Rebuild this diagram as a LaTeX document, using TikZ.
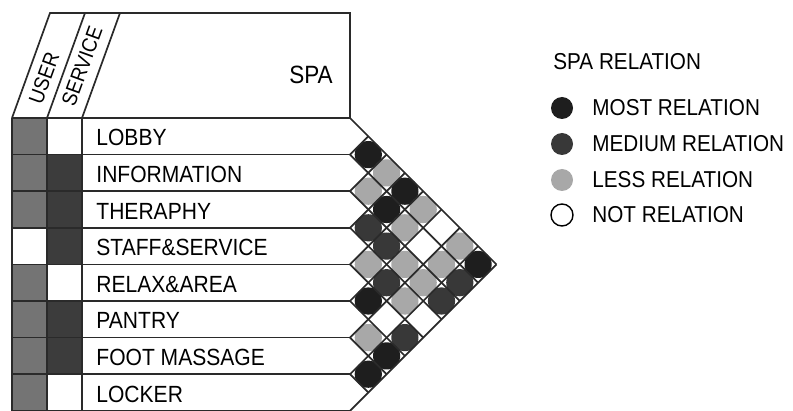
\documentclass[tikz,border=0pt]{standalone}
\usepackage{fontspec}
\setmainfont{Liberation Sans}[FakeStretch=0.9]

\definecolor{linegray}{HTML}{2A2A2A}
\definecolor{relmost}{HTML}{1E1E1E}
\definecolor{relmedium}{HTML}{383838}
\definecolor{relless}{HTML}{A8A8A8}
\definecolor{usergray}{HTML}{747474}
\definecolor{servicegray}{HTML}{3C3C3C}

\tikzset{
  gridline/.style={line width=0.85pt, draw=linegray},
  rowlabel/.style={anchor=west, inner sep=0pt, font=\fontsize{11.7}{12}\selectfont},
  headlabel/.style={inner sep=0pt, rotate=70, font=\fontsize{10.5}{12}\selectfont},
  legendtext/.style={anchor=west, inner sep=0pt, font=\fontsize{11.5}{12}\selectfont},
  legenddot/.style={circle, inner sep=0pt, minimum size=11pt},
}

\newcommand{\rowh}{36.6}

\begin{document}
\begin{tikzpicture}[x=0.5pt, y=-0.5pt]
    \useasboundingbox (0,0) rectangle (793,411);

    % ---- user / service columns (1 = used) ----
    \foreach \u/\s [count=\k from 0] in {1/0,1/1,1/1,0/1,1/0,1/1,1/1,1/0}{
        \ifnum\u=1 \fill[usergray] (12,118+\k*\rowh) rectangle (47,118+\k*\rowh+\rowh);\fi
        \ifnum\s=1 \fill[servicegray] (47,118+\k*\rowh) rectangle (82,118+\k*\rowh+\rowh);\fi
    }

    % ---- relation circles (pair i/j) ----
    \foreach \i/\j/\c in {0/1/relmost, 0/2/relless, 0/3/relmost, 0/4/relless, 0/6/relless, 0/7/relmost,
                          1/2/relless, 1/3/relmost, 1/4/relless, 1/6/relless, 1/7/relmedium,
                          2/3/relmedium, 2/4/relmedium, 2/5/relless, 2/6/relless, 2/7/relmedium,
                          3/4/relless, 3/5/relmedium, 3/6/relless,
                          4/5/relmost, 4/7/relmedium,
                          5/6/relless, 5/7/relmost,
                          6/7/relmost}
        \fill[\c] ({350+(\j-\i)*\rowh/2}, {118+(\i+\j+1)*\rowh/2}) circle (6.8pt);

    % ---- header ----
    \draw[gridline] (12,118) -- (50,13) -- (350,13) -- (350,118);
    \draw[gridline] (47,118) -- (85,13);
    \draw[gridline] (82,118) -- (120,13);
    \node[headlabel] (user) at (44,78) {USER};
    \node[headlabel] (service) at (82,66) {SERVICE};
    \node[inner sep=0pt, font=\fontsize{12.5}{14}\selectfont] (spa) at (311,75) {SPA};

    % ---- rows ----
    \foreach \k in {0,...,8}
        \draw[gridline] (12,118+\k*\rowh) -- (350,118+\k*\rowh);
    \foreach \x in {12,47,82}
        \draw[gridline] (\x,118) -- (\x,118+8*\rowh);
    \foreach \name/\txt [count=\k from 0] in {lobby/LOBBY, info/INFORMATION, therapy/THERAPHY,
            staff/STAFF\&SERVICE, relax/RELAX\&AREA, pantry/PANTRY, foot/FOOT MASSAGE, locker/LOCKER}
        \node[rowlabel] (\name) at (96,{118+(\k+0.5)*\rowh+1.5}) {\txt};

    % ---- diagonal grid of the half diamond ----
    \foreach \k in {0,...,8}{
        \draw[gridline] (350,118+\k*\rowh) -- ++({(8-\k)*\rowh/2},{(8-\k)*\rowh/2});
        \draw[gridline] (350,118+\k*\rowh) -- ++({\k*\rowh/2},{-\k*\rowh/2});
    }

    % ---- legend ----
    \node[legendtext] (legtitle) at (553,62) {SPA RELATION};
    \foreach \name/\c/\txt/\y in {most/relmost/MOST RELATION/108, medium/relmedium/MEDIUM RELATION/144,
                                  less/relless/LESS RELATION/180}{
        \node[legenddot, fill=\c] (dot\name) at (562,\y) {};
        \node[legendtext] (leg\name) at (592,\y) {\txt};
    }
    \node[legenddot, draw=black, line width=0.7pt, fill=white] (dotnot) at (562,215) {};
    \node[legendtext] (legnot) at (592,215) {NOT RELATION};
\end{tikzpicture}
\end{document}
